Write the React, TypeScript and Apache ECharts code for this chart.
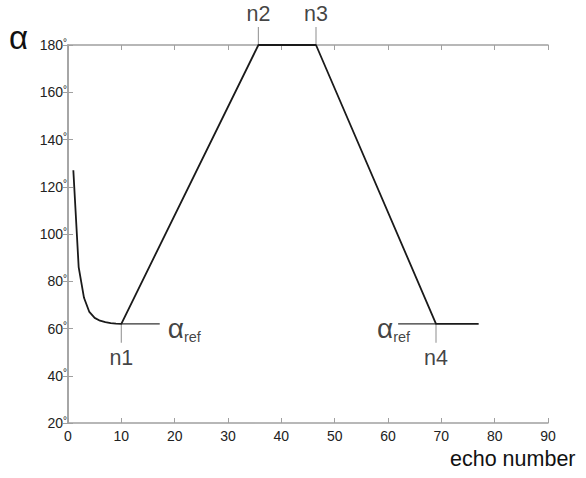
import React, { useEffect, useRef } from "react";
import * as echarts from "echarts";

const curveX = [1, 2, 3, 4, 5, 6, 7, 8, 9, 10, 35.7, 46.5, 69, 77];
const curveY = [127, 86, 73, 67, 64.5, 63.3, 62.7, 62.3, 62.1, 62, 180, 180, 62, 62];

const alphaRef = 62;
const nNames = ["n1", "n2", "n3", "n4"];
const nX = [10, 35.7, 46.5, 69];
const nY = [62, 180, 180, 62];
const nTickEnd = [54, 187.6, 187.6, 54];
const refLine1 = [10, 17.2];
const refLine4 = [61.9, 69];

const xTicks = [0, 10, 20, 30, 40, 50, 60, 70, 80, 90];
const yTicks = [20, 40, 60, 80, 100, 120, 140, 160, 180];

const FONT = "'Liberation Sans', Arial, sans-serif";

export default function App() {
  const ref = useRef<HTMLDivElement>(null);
  useEffect(() => {
    document.body.style.margin = "0";
    const chart = echarts.init(ref.current!, null, { renderer: "svg" });
    const axisLine = { show: true, lineStyle: { color: "#a0a0a0", width: 1.5 } };
    const tick = { show: true, inside: true, length: 5, lineStyle: { color: "#a0a0a0", width: 1 } };
    const richRef = {
      a: { fontSize: 28, fontFamily: FONT, color: "#111" },
      s: { fontSize: 14.5, fontFamily: FONT, color: "#111", padding: [16, 0, 0, 0] },
    };
    const option: any = {
      animation: false,
      grid: { left: 68, right: 38, top: 45, bottom: 55 },
      xAxis: [
        {
          type: "value",
          min: xTicks[0],
          max: xTicks[xTicks.length - 1],
          interval: 10,
          position: "bottom",
          axisLine,
          axisTick: tick,
          splitLine: { show: false },
          axisLabel: { fontSize: 14, color: "#222", margin: 6, fontFamily: FONT },
        },
        {
          type: "value",
          min: xTicks[0],
          max: xTicks[xTicks.length - 1],
          interval: 10,
          position: "top",
          axisLine,
          axisTick: tick,
          splitLine: { show: false },
          axisLabel: { show: false },
        },
      ],
      yAxis: [
        {
          type: "value",
          min: yTicks[0],
          max: yTicks[yTicks.length - 1],
          interval: 20,
          position: "left",
          axisLine,
          axisTick: tick,
          splitLine: { show: false },
          axisLabel: {
            margin: 1,
            formatter: (v: number) => `{v|${v}}{d|°}`,
            rich: {
              v: { fontSize: 14, color: "#222", fontFamily: FONT },
              d: { fontSize: 10, color: "#222", fontFamily: FONT, padding: [0, 0, 6, 0] },
            },
          },
        },
        {
          type: "value",
          min: yTicks[0],
          max: yTicks[yTicks.length - 1],
          interval: 20,
          position: "right",
          axisLine,
          axisTick: tick,
          splitLine: { show: false },
          axisLabel: { show: false },
        },
      ],
      graphic: [
        {
          type: "text",
          left: 9,
          top: 21,
          style: { text: "α", fontSize: 33, fontFamily: FONT, fill: "#111" },
        },
        {
          type: "text",
          left: 450,
          top: 448,
          style: { text: "echo number", fontSize: 21.5, fontFamily: FONT, fill: "#111" },
        },
      ],
      series: [
        ...nX.map((x, i) => ({
          type: "line",
          clip: false,
          symbol: "none",
          silent: true,
          lineStyle: { color: "#a0a0a0", width: 1.2 },
          data: [
            [x, nY[i]],
            [x, nTickEnd[i]],
          ],
        })),
        {
          type: "line",
          symbol: "none",
          lineStyle: { color: "#333", width: 1.2 },
          data: [
            [refLine1[0], alphaRef],
            [refLine1[1], alphaRef],
          ],
        },
        {
          type: "line",
          symbol: "none",
          lineStyle: { color: "#333", width: 1.2 },
          data: [
            [refLine4[0], alphaRef],
            [refLine4[1], alphaRef],
          ],
        },
        {
          type: "line",
          symbol: "none",
          clip: false,
          lineStyle: { color: "#1a1a1a", width: 1.8 },
          data: curveX.map((x, i) => [x, curveY[i]]),
        },
        {
          type: "scatter",
          clip: false,
          symbolSize: 0,
          silent: true,
          data: nX.map((x, i) => ({
            value: [x, nTickEnd[i]],
            name: nNames[i],
            label: {
              show: true,
              formatter: "{b}",
              position: nTickEnd[i] > nY[i] ? "top" : "bottom",
              distance: nTickEnd[i] > nY[i] ? 2 : 4,
              fontSize: 21.5,
              fontFamily: FONT,
              color: "#111",
            },
          })),
        },
        {
          type: "scatter",
          clip: false,
          symbolSize: 0,
          silent: true,
          data: [
            {
              value: [refLine1[1], alphaRef],
              label: {
                show: true,
                position: "right",
                distance: 8,
                offset: [0, 5],
                formatter: "{a|α}{s|ref}",
                rich: richRef,
              },
            },
            {
              value: [refLine4[0], alphaRef],
              label: {
                show: true,
                position: "left",
                distance: 0,
                offset: [12, 5],
                formatter: "{a|α}{s|ref}",
                rich: richRef,
              },
            },
          ],
        },
      ],
    };
    chart.setOption(option);
    return () => chart.dispose();
  }, []);
  return <div ref={ref} style={{ width: 586, height: 478 }} />;
}
